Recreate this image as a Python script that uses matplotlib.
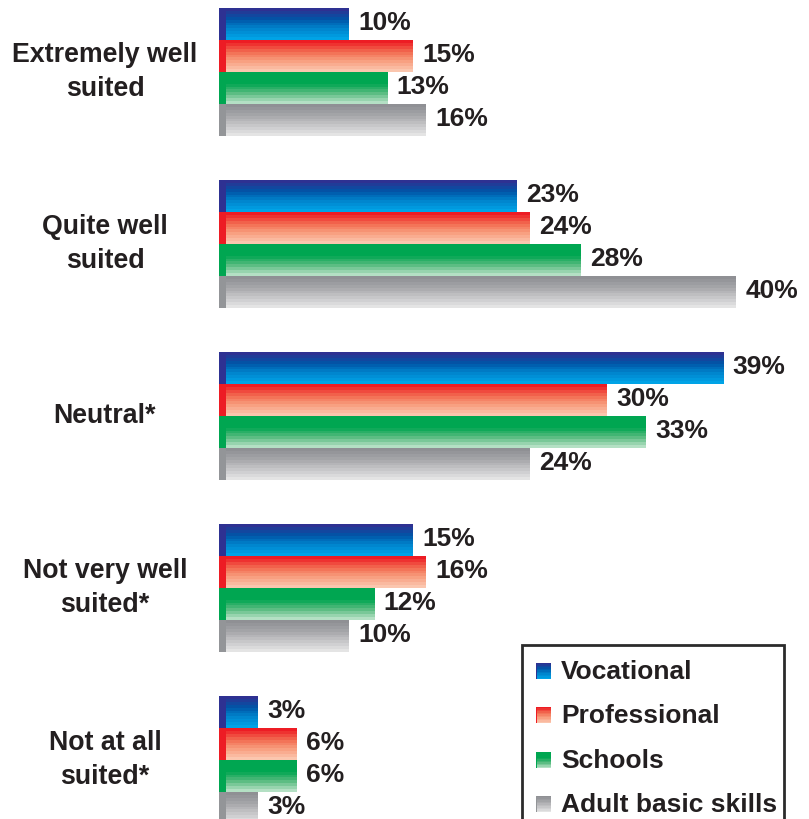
import numpy as np
import matplotlib.pyplot as plt
from matplotlib.colors import LinearSegmentedColormap
from matplotlib.patches import Rectangle

plt.rcParams['font.family'] = ['Liberation Sans', 'DejaVu Sans']

categories = ["Extremely well\nsuited", "Quite well\nsuited", "Neutral*",
              "Not very well\nsuited*", "Not at all\nsuited*"]
series = ["Vocational", "Professional", "Schools", "Adult basic skills"]
vocational = [10, 23, 39, 15, 3]
professional = [15, 24, 30, 16, 6]
schools = [13, 28, 33, 12, 6]
adult_basic = [16, 40, 24, 10, 3]
values = [vocational, professional, schools, adult_basic]

# gradient stops (top -> bottom) and the darker end cap for each series
gradients = [
    ["#2E3192", "#0057A8", "#0083CC", "#00A3E6"],
    ["#ED1C24", "#F26A50", "#F89C7C", "#FBC6AE"],
    ["#00A651", "#00A651", "#52B97C", "#B4E0C4"],
    ["#8F9094", "#A6A7AA", "#C4C4C6", "#E4E4E4"],
]
caps = ["#2E3192", "#ED1C24", "#00A651", "#939598"]

W, H = 809, 819
X0 = 219          # pixel position of 0 %
PX_PER_PCT = 12.925
BAR_H = 32
GROUP_STEP = 172
TOP = 8
N_BANDS = 11
TXT = "#231F20"


def band_image(stops):
    cmap = LinearSegmentedColormap.from_list("g", stops)
    rows = cmap(np.linspace(0, 1, N_BANDS))[:, :3]
    return rows[:, None, :]


fig = plt.figure(figsize=(W / 100, H / 100), dpi=100)
ax = fig.add_axes([0, 0, 1, 1])
ax.set_xlim(-X0 / PX_PER_PCT, (W - X0) / PX_PER_PCT)
ax.set_ylim(H, 0)
ax.axis("off")

cap_w = 0.55
for s, vals in enumerate(values):
    img = band_image(gradients[s])
    for g, v in enumerate(vals):
        top = TOP + g * GROUP_STEP + s * BAR_H
        ax.imshow(img, extent=(0, v, top + BAR_H, top), aspect="auto",
                  interpolation="nearest", zorder=2)
        ax.add_patch(Rectangle((0, top), cap_w, BAR_H, color=caps[s],
                               lw=0, zorder=3))
        ax.text(v + 0.75, top + BAR_H / 2 - 1.5, f"{v}%", ha="left", va="center",
                fontsize=19, fontweight="bold", color=TXT)

for g, cat in enumerate(categories):
    yc = TOP + g * GROUP_STEP + 2 * BAR_H
    ax.text(-114 / PX_PER_PCT, yc, cat, ha="center", va="center",
            fontsize=19.3, fontweight="bold", color=TXT,
            linespacing=1.4)

# legend drawn in pixel coordinates
lg = fig.add_axes([0, 0, 1, 1])
lg.set_xlim(0, W)
lg.set_ylim(H, 0)
lg.axis("off")
lg.add_patch(Rectangle((522, 645), 262, 200, facecolor="white",
                       edgecolor="#2B2B2B", lw=2, zorder=1))
for s, name in enumerate(series):
    yc = 671 + s * 44.3
    lg.imshow(band_image(gradients[s]), extent=(536, 551, yc + 8, yc - 8),
              aspect="auto", interpolation="nearest", zorder=2)
    lg.add_patch(Rectangle((536, yc - 8), 1.5, 16, color=caps[s], lw=0, zorder=3))
    lg.text(561, yc + 1, name, ha="left", va="center", fontsize=19,
            fontweight="bold", color=TXT, zorder=3)
lg.set_xlim(0, W)
lg.set_ylim(H, 0)

fig.savefig("out.png", dpi=100)
